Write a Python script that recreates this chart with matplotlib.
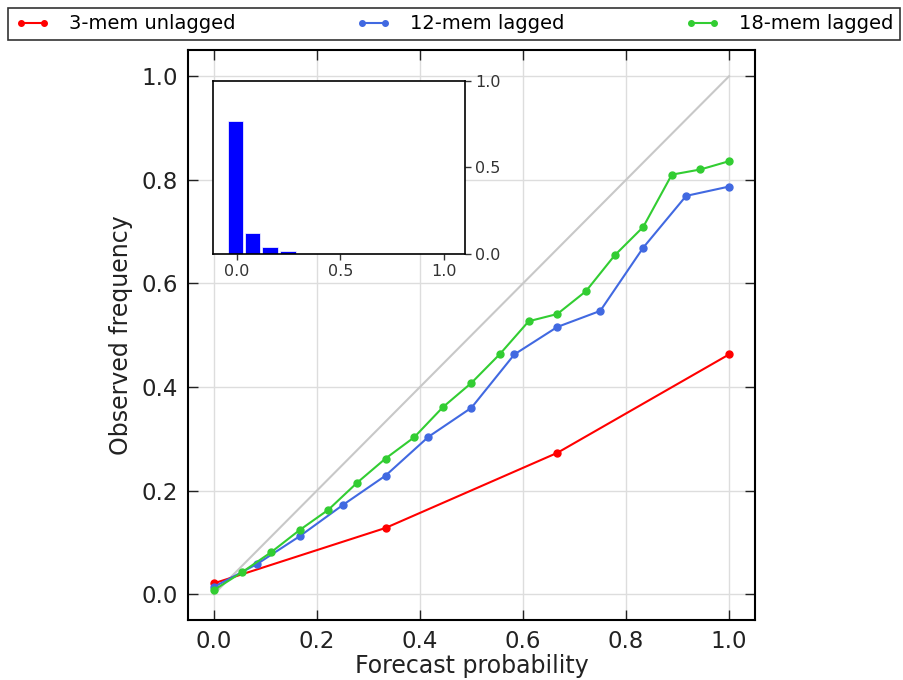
import numpy as np
import matplotlib
matplotlib.use("Agg")
import matplotlib.pyplot as plt

# Data
x_3mem = [0.0, 1/3, 2/3, 1.0]
y_3mem = [0.021, 0.128, 0.273, 0.463]

x_12mem = [k/12 for k in range(13)]
y_12mem = [0.014, 0.058, 0.112, 0.172, 0.229, 0.304, 0.360, 0.463, 0.516,
           0.547, 0.669, 0.769, 0.787]

x_18mem = [k/18 for k in range(19)]
y_18mem = [0.008, 0.043, 0.081, 0.124, 0.163, 0.215, 0.262, 0.303, 0.361,
           0.408, 0.464, 0.527, 0.541, 0.585, 0.654, 0.709, 0.810, 0.820, 0.836]

hist_x = [-0.006, 0.077, 0.161, 0.247]
hist_h = [0.768, 0.118, 0.039, 0.016]

labels = ["3-mem unlagged", "12-mem lagged", "18-mem lagged"]
colors = ["#ff0000", "#4169e1", "#32cd32"]

fig = plt.figure(figsize=(9.04, 6.8), dpi=100)
ax = fig.add_axes([0.208, 0.088, 0.627, 0.838])

ax.plot([0, 1], [0, 1], color="#c8c8c8", lw=1.5, zorder=1)
for xs, ys, lab, c in zip([x_3mem, x_12mem, x_18mem], [y_3mem, y_12mem, y_18mem], labels, colors):
    ax.plot(xs, ys, "-o", color=c, lw=1.5, ms=5, mec=c, label=lab, zorder=3)

ax.set_xlim(-0.05, 1.05)
ax.set_ylim(-0.05, 1.05)
ax.set_xticks([0, 0.2, 0.4, 0.6, 0.8, 1.0])
ax.set_yticks([0, 0.2, 0.4, 0.6, 0.8, 1.0])
ax.xaxis.set_major_formatter(matplotlib.ticker.FormatStrFormatter("%.1f"))
ax.yaxis.set_major_formatter(matplotlib.ticker.FormatStrFormatter("%.1f"))
ax.grid(True, color="#dddddd", lw=1)
ax.set_axisbelow(True)
ax.tick_params(direction="in", top=True, right=True, length=7, width=1, labelsize=16.5,
               colors="#222222", pad=7)
for s in ax.spines.values():
    s.set_linewidth(1.5)
ax.set_xlabel("Forecast probability", fontsize=17, color="#222222", labelpad=1)
ax.set_ylabel("Observed frequency", fontsize=17, color="#222222", labelpad=6)

leg = fig.legend(loc="lower left", bbox_to_anchor=(0.009, 0.941, 0.987, 0.05), mode="expand",
                 ncol=3, fontsize=14, frameon=True, fancybox=False, handlelength=1.8,
                 numpoints=2, borderaxespad=0, handletextpad=1.0, borderpad=0.35)
leg.get_frame().set_edgecolor("black")
leg.get_frame().set_linewidth(1.2)
for h in leg.get_lines():
    h.set_markersize(4)

ins = fig.add_axes([0.236, 0.627, 0.278, 0.254])
ins.bar(hist_x, hist_h, width=0.075, color="#0000ff", edgecolor="white", lw=0.5)
ins.set_xlim(-0.113, 1.1)
ins.set_ylim(0, 1)
ins.set_xticks([0, 0.5, 1.0])
ins.set_yticks([0, 0.5, 1.0])
ins.xaxis.set_major_formatter(matplotlib.ticker.FormatStrFormatter("%.1f"))
ins.yaxis.set_major_formatter(matplotlib.ticker.FormatStrFormatter("%.1f"))
ins.yaxis.tick_right()
ins.tick_params(direction="out", length=4, width=1, labelsize=11.5, colors="#333333")
for s in ins.spines.values():
    s.set_linewidth(1.2)

fig.savefig("out.png", dpi=100)
